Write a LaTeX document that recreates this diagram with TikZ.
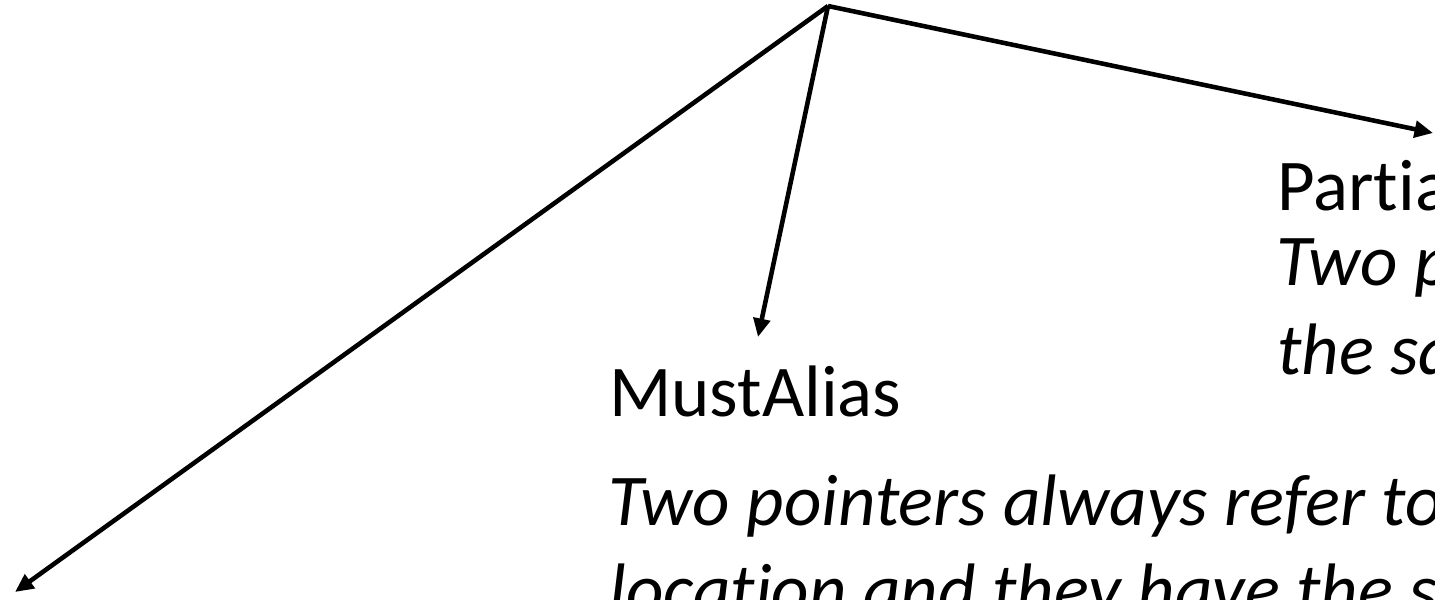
\documentclass[tikz,border=0pt]{standalone}
\usepackage{fontspec}
\setmainfont{Carlito}[Ligatures={NoCommon}]
\usetikzlibrary{arrows.meta,positioning}

\begin{document}
\begin{tikzpicture}[
    x=0.02cm, y=-0.02cm,
    link/.style={-{Triangle[length=0.37cm,width=0.33cm]}, line width=2.6pt, black},
    kind/.style={anchor=base west, inner sep=0pt, font=\fontsize{41.5}{50.6}\selectfont},
    descr/.style={kind, font=\fontsize{41.5}{50.6}\selectfont\itshape},
]
\useasboundingbox (0,0) rectangle (1435,599);
\clip (0,0) rectangle (1435,599);

% Root of the three arrows
\coordinate (root) at (828,6);

% Arrow ends
\coordinate (noend) at (15,592);
\coordinate (mustend) at (758,337);
\coordinate (partend) at (1433,133);

% Partial alias (right)
\node[kind] (partial) at (1277,210) {PartialAlias};
\node[descr] (partialA) at (1276,285) {Two pointers may refer to};
\node[descr] (partialB) at (1277,374) {the same location};

% Must alias (middle)
\node[kind] (must) at (609,416) {MustAlias};
\node[descr] (mustA) at (608,525) {Two pointers always refer to the same};
\node[descr] (mustB) at (609,614) {location and they have the same};

% Edges
\draw[link] (root) -- (noend);
\draw[link] (root) -- (mustend);
\draw[link] (root) -- (partend);

\end{tikzpicture}
\end{document}
